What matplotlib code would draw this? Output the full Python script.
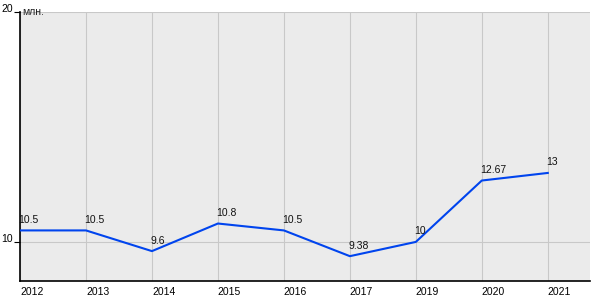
import matplotlib.pyplot as plt

years = ['2012', '2013', '2014', '2015', '2016', '2017', '2019', '2020', '2021']
values = [10.5, 10.5, 9.6, 10.8, 10.5, 9.38, 10, 12.67, 13]
labels = ['10.5', '10.5', '9.6', '10.8', '10.5', '9.38', '10', '12.67', '13']

plt.rcParams['font.family'] = ['Liberation Sans', 'DejaVu Sans']

fig = plt.figure(figsize=(6, 3), dpi=100)
ax = fig.add_axes([20 / 600, 19 / 300, 570 / 600, 269 / 300])
ax.set_facecolor('#ebebeb')

x = list(range(len(years)))
ax.plot(x, values, color='#0044ee', linewidth=1.5, zorder=3)
for xi, v, t in zip(x, values, labels):
    ax.annotate(t, (xi, v), xytext=(-1, 4), textcoords='offset points',
                fontsize=7.5, ha='left', va='bottom', color='#111111')

ax.set_xlim(0, 8.64)
ax.set_ylim(8.3, 20)
ax.set_xticks(x)
ax.set_xticklabels(years, ha='left', fontsize=7.5)
for lab in ax.get_xticklabels():
    lab.set_x(lab.get_position()[0])
ax.set_yticks([10, 20])
ax.set_yticklabels(['10', '20'], fontsize=7.5, va='baseline')
ax.tick_params(axis='x', length=0, pad=4)
ax.tick_params(axis='y', length=4, pad=1, width=0.8)
ax.grid(True, color='#c8c8c8', linewidth=0.8)
ax.set_axisbelow(True)

for s in ['top', 'right']:
    ax.spines[s].set_visible(False)
ax.spines['left'].set_linewidth(1.2)
ax.spines['bottom'].set_linewidth(1.2)

ax.text(0.03, 20, 'млн.', fontsize=7.5, ha='left', va='center', color='#222222')

fig.savefig('out.png', facecolor='white')
